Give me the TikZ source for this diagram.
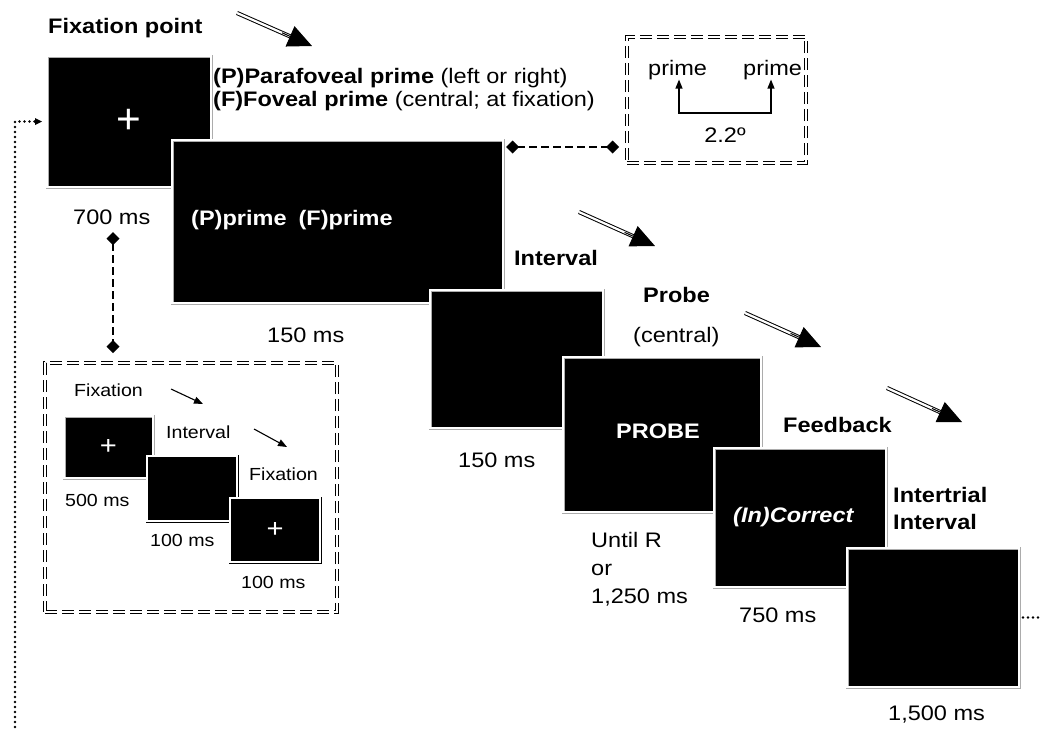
\documentclass[tikz,border=0pt]{standalone}
\usepackage{fontspec}
\setmainfont{Liberation Sans}[FakeStretch=1.12]
\usetikzlibrary{arrows.meta,calc}
\begin{document}
\begin{tikzpicture}[x=1pt,y=-1pt,
  every node/.style={font=\fontsize{21}{25}\selectfont, inner sep=0pt},
  screen/.style={fill=black, draw=gray!65, double=white, double distance=1.6pt, line width=0.7pt, inner sep=0pt, outer sep=0pt, anchor=north west},
  ddbox/.style={draw=black, double=white, double distance=1.4pt, line width=1.1pt, dash pattern=on 12pt off 5pt, inner sep=0pt, outer sep=0pt, anchor=north west},
  lbl/.style={anchor=base west},
  blbl/.style={anchor=base west, font=\fontsize{21}{25}\selectfont\bfseries},
  wlbl/.style={anchor=base west, text=white, font=\fontsize{21}{25}\selectfont\bfseries},
  slbl/.style={anchor=base west, font=\fontsize{17.5}{21}\selectfont},
  bigplus/.style={text=white, font=\fontsize{42}{42}\selectfont},
  smallplus/.style={text=white, font=\fontsize{26}{26}\selectfont},
  shaft/.style={double, line width=1pt, double distance=2.2pt, shorten >=14pt},
  head/.style={line width=1pt, -{Triangle[length=24pt,width=22pt]}},
  thinarrow/.style={line width=1.1pt, -{Triangle[length=9pt,width=7pt]}},
  diadash/.style={line width=2.6pt, dash pattern=on 8pt off 4pt, {Diamond[length=13pt,width=13pt]}-{Diamond[length=13pt,width=13pt]}},
  dotline/.style={line width=2.8pt, line cap=round, dash pattern=on 0pt off 5pt}
]
\useasboundingbox (0,0) rectangle (1043,729);

% ---------- screens ----------
\node[screen, minimum width=164pt, minimum height=131pt] (fix) at (47,56) {};
\node[bigplus] (fixplus) at (fix.center) {\scalebox{0.9}[1]{+}};
\node[screen, minimum width=331pt, minimum height=163pt] (prime) at (172,140) {};
\node[screen, minimum width=173pt, minimum height=138pt] (int) at (430,290) {};
\node[screen, minimum width=198pt, minimum height=155pt] (probe) at (563,357) {};
\node[screen, minimum width=172pt, minimum height=139pt] (fb) at (714,448) {};
\node[screen, minimum width=172pt, minimum height=139pt] (iti) at (847,548) {};

% ---------- main labels ----------
\node[blbl] (tfix) at (48,33) {Fixation point};
\node[lbl] (tp1) at (213,83) {\textbf{(P)Parafoveal prime} (left or right)};
\node[lbl] (tp2) at (213,106) {\textbf{(F)Foveal prime} (central; at fixation)};
\node[lbl] (t700) at (73,224) {700 ms};
\node[wlbl] (tprime) at (191,225) {(P)prime\hspace{12pt}(F)prime};
\node[lbl] (t150a) at (267,342) {150 ms};
\node[blbl] (tint) at (514,265) {Interval};
\node[lbl] (t150b) at (458,467) {150 ms};
\node[blbl] (tprobe) at (643,302) {Probe};
\node[lbl] (tcent) at (633,342) {(central)};
\node[wlbl] (tPROBE) at (616,438) {PROBE};
\node[lbl] (tu1) at (591,547) {Until R};
\node[lbl] (tu2) at (591,575) {or};
\node[lbl] (tu3) at (591,603) {1,250 ms};
\node[blbl] (tfb) at (783,432) {Feedback};
\node[wlbl, font=\fontsize{21}{25}\selectfont\bfseries\itshape] (tcorr) at (733,522) {(In)Correct};
\node[lbl] (t750) at (739,622) {750 ms};
\node[blbl] (titi1) at (893,502) {Intertrial};
\node[blbl] (titi2) at (893,529) {Interval};
\node[lbl] (t1500) at (888,720) {1,500 ms};

% ---------- big double arrows ----------
\coordinate (a1s) at (237,13);  \coordinate (a1t) at (312,46);
\coordinate (a2s) at (579,212); \coordinate (a2t) at (655,246);
\coordinate (a3s) at (745,313); \coordinate (a3t) at (821,347);
\coordinate (a4s) at (887,388); \coordinate (a4t) at (962,422);
\foreach \i in {1,2,3,4}{
  \draw[shaft] (a\i s) -- (a\i t);
  \draw[head] ($(a\i s)!0.6!(a\i t)$) -- (a\i t);
}

% ---------- top-right inset ----------
\node[ddbox, minimum width=179pt, minimum height=126pt] (insA) at (627,37) {};
\node[lbl] (pr1) at (648,75) {prime};
\node[lbl] (pr2) at (743,75) {prime};
\coordinate (b1) at (679,113);
\coordinate (b2) at (771,113);
\draw[line width=1.2pt, {Triangle[length=9pt,width=7pt]}-{Triangle[length=9pt,width=7pt]}]
  (b1 |- pr1.south) -- (b1) -- (b2) -- (b2 |- pr2.south);
\node (deg) at (725,135) {2.2º};

% ---------- bottom-left inset ----------
\node[ddbox, minimum width=292pt, minimum height=249pt] (insB) at (45,363) {};
\node[slbl] (sf1) at (74,396) {Fixation};
\node[slbl] (si) at (166,438) {Interval};
\node[slbl] (sf2) at (249,480) {Fixation};
\node[screen, minimum width=89pt, minimum height=62pt] (s1) at (64,416) {};
\node[smallplus] (s1p) at (s1.center) {+};
\node[screen, draw=black, minimum width=90pt, minimum height=65pt] (s2) at (147,456) {};
\node[screen, draw=black, minimum width=90pt, minimum height=64pt] (s3) at (230,498) {};
\node[smallplus] (s3p) at (s3.center) {+};
\node[slbl] (s500) at (65,506) {500 ms};
\node[slbl] (s100a) at (150,546) {100 ms};
\node[slbl] (s100b) at (241,588) {100 ms};
\coordinate (sa1) at (171,389); \coordinate (sa1t) at (203,404);
\coordinate (sa2) at (254,429); \coordinate (sa2t) at (287,447);
\draw[thinarrow] (sa1) -- (sa1t);
\draw[thinarrow] (sa2) -- (sa2t);

% ---------- dashed diamond connectors ----------
\coordinate (c1) at ([xshift=3pt,yshift=-7pt]prime.north east);
\draw[diadash, shorten >=8pt] (c1) -- (c1 -| insA.west);
\coordinate (v1) at (113,232);
\draw[diadash, shorten >=10pt] (v1) -- (v1 |- insB.north);

% ---------- dotted loop ----------
\coordinate (dbot) at (15,727);
\draw[dotline, -{Triangle[length=7pt,width=7pt,line width=0pt]}] (dbot) |- ([xshift=-5pt]fix.west);
\coordinate (dend) at ([xshift=22pt]iti.east);
\draw[dotline] ([xshift=4pt]iti.east) -- (dend);
\end{tikzpicture}
\end{document}
